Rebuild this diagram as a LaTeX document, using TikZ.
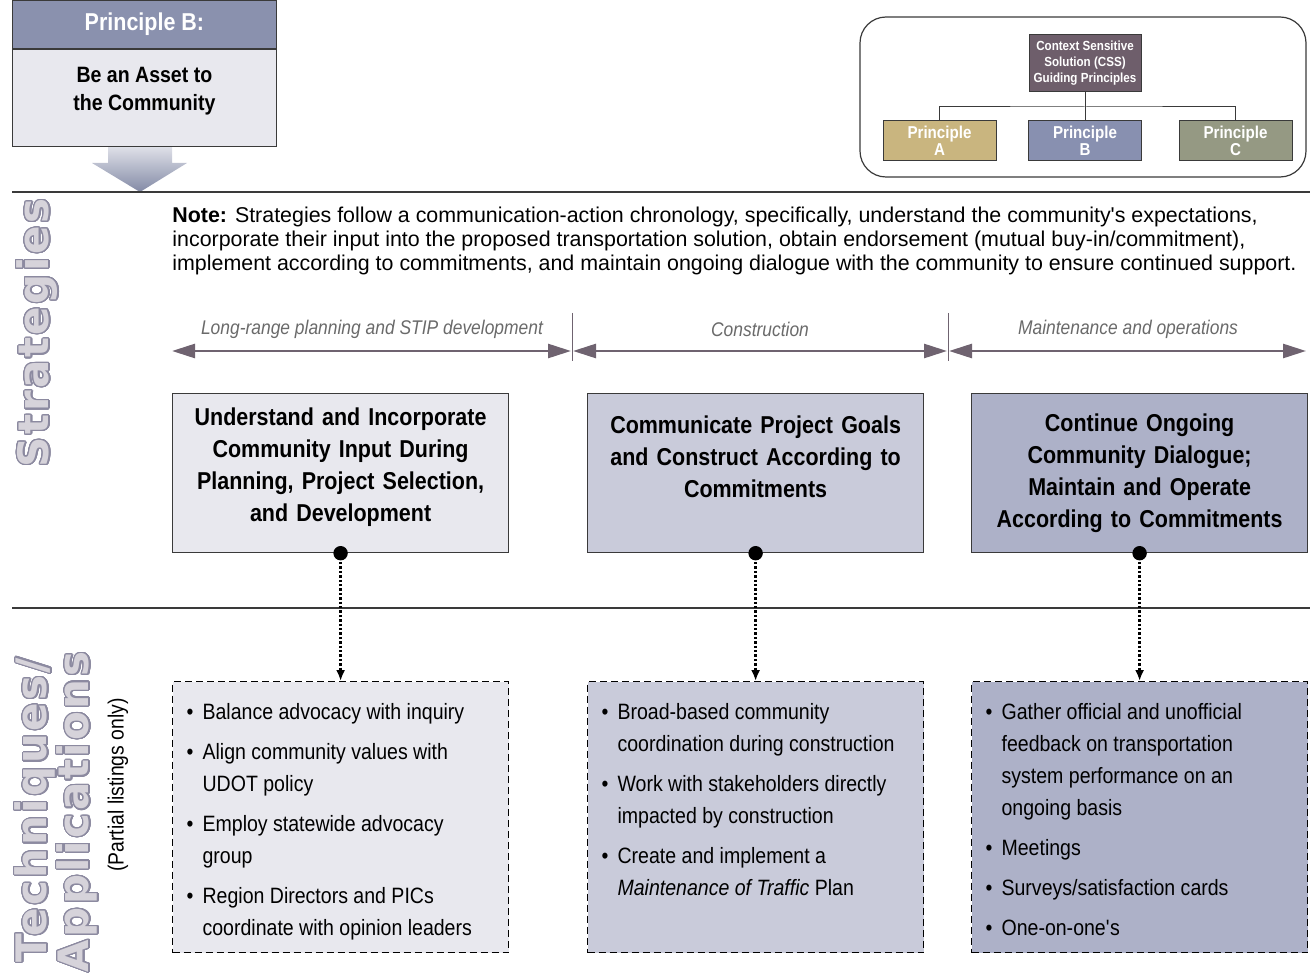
\documentclass[tikz,border=0pt]{standalone}
\usepackage{fontspec}
\setmainfont{Liberation Sans}[FakeStretch=0.88]
\newfontfamily\noteface{Liberation Sans}
\newfontfamily\sidefont{DejaVu Sans}[LetterSpace=6]
\usepackage{contour}
\contourlength{0.6pt}
\contournumber{32}
\usepackage{xcolor}
\definecolor{framegray}{HTML}{3A3A3A}
\definecolor{headblue}{HTML}{8A91AE}
\definecolor{paleblue}{HTML}{E8E8EE}
\definecolor{midblue}{HTML}{C9CBDA}
\definecolor{deepblue}{HTML}{ADB1C8}
\definecolor{plum}{HTML}{6F6370}
\definecolor{cssplum}{HTML}{6E5E6B}
\definecolor{sandA}{HTML}{C9B57F}
\definecolor{slateB}{HTML}{8890B0}
\definecolor{sageC}{HTML}{959983}
\definecolor{sidefill}{HTML}{D6D3DA}
\definecolor{sideline}{HTML}{8C8AA0}
\definecolor{phasegray}{HTML}{6A6A6A}
\usetikzlibrary{positioning, arrows.meta}

\hyphenpenalty=10000
\newcommand{\bul}[1]{\par\hangindent=8pt\hangafter=1\noindent\makebox[8pt][l]{\textbullet}#1\par\vspace{4pt}}
\newcommand{\techlist}[1]{\begin{minipage}[t][135.5pt][t]{154pt}\raggedright\vspace*{11pt}#1\end{minipage}}

\begin{document}
\begin{tikzpicture}[x=0.5pt,y=-0.5pt,
  font=\fontsize{11.1}{16}\selectfont,
  stratbox/.style={draw=framegray, line width=0.6pt, minimum width=168pt, minimum height=79.5pt,
    text width=160pt, align=center, inner sep=0pt, font=\bfseries\fontsize{12.2}{16}\selectfont},
  techbox/.style={draw=black, line width=0.6pt, dash pattern=on 3.5pt off 2pt,
    inner xsep=7pt, inner ysep=0pt, anchor=north west},
  phase/.style={text=phasegray, font=\itshape\fontsize{9.9}{12}\selectfont},
  timeline/.style={draw=plum, line width=1.3pt, {Triangle[length=11.5pt,width=7pt]}-{Triangle[length=11.5pt,width=7pt]}},
  tick/.style={draw=plum, line width=0.5pt},
  dotline/.style={line width=1.2pt, densely dotted, -{Latex[length=5.5pt,width=4.5pt]}},
  rule/.style={draw=framegray, line width=0.6pt},
  orgbox/.style={draw=framegray, line width=0.5pt, minimum width=56.5pt, minimum height=20pt,
    text=white, align=center, inner sep=0pt, font=\bfseries\fontsize{8.6}{8.6}\selectfont},
  sidelabel/.style={rotate=90, text=sidefill, font=\sidefont\bfseries\fontsize{21}{21}\selectfont}
  ]
  \useasboundingbox (0,0) rectangle (1310,978);

  % principle B header
  \shade[top color=headblue!25, bottom color=headblue!95!black]
    (108,145) -- (172,145) -- (172,163) -- (187,163) -- (140,192) -- (92,163) -- (108,163) -- cycle;
  \node[draw=framegray, fill=headblue, anchor=north west, minimum width=132pt, minimum height=24pt,
    text=white, font=\bfseries\fontsize{12.2}{14}\selectfont] (pbhead) at (12,0) {Principle B:};
  \node[draw=framegray, fill=paleblue, anchor=north, minimum width=132pt, minimum height=48.5pt,
    align=center, font=\bfseries\fontsize{11.1}{14}\selectfont] (pbbody) at (pbhead.south)
    {Be an Asset to\\the Community\\[-5.5pt]\mbox{}};

  % CSS overview
  \draw[framegray, line width=0.6pt, rounded corners=13pt] (860,17) rectangle (1306,177);
  \node[orgbox, fill=cssplum, minimum width=56pt, minimum height=28.5pt,
    font=\bfseries\fontsize{6.6}{8}\selectfont] (css) at (1085,63.5)
    {Context Sensitive\\Solution (CSS)\\Guiding Principles};
  \node[orgbox, fill=sandA] (prA) at (939.5,140.5) {Principle\\A};
  \node[orgbox, fill=slateB] (prB) at (1085,140.5) {Principle\\B};
  \node[orgbox, fill=sageC] (prC) at (1235.5,140.5) {Principle\\C};
  \draw[framegray, line width=0.5pt] (css.south) -- (prB.north);
  \draw[framegray, line width=0.5pt] (prA.north) |- (1085,107) -| (prC.north);

  % section rules
  \draw[rule] (12,192) -- (1310,192);
  \draw[rule] (12,608) -- (1310,608);

  % side labels
  \node[sidelabel] (strat) at (38,333) {\contour{sideline}{Strategies}};
  \node[sidelabel] (techn) at (36,810) {\contour{sideline}{Techniques/}};
  \node[sidelabel] (appl) at (78,812) {\contour{sideline}{Applications}};
  \node[rotate=90, font=\fontsize{11}{12}\selectfont] (partial) at (118,785) {(Partial listings only)};

  % note
  \node[anchor=north west, align=left, inner sep=0pt, font=\noteface\fontsize{10.7}{12}\selectfont] (note) at (172,207)
    {\textbf{Note:} Strategies follow a communication-action chronology, specifically, understand the community\textquotesingle s expectations,\\
     incorporate their input into the proposed transportation solution, obtain endorsement (mutual buy-in/commitment),\\
     implement according to commitments, and maintain ongoing dialogue with the community to ensure continued support.};

  % phases
  \coordinate (tA) at (172,351);
  \coordinate (tB) at (571,351);
  \coordinate (tC) at (573,351);
  \coordinate (tD) at (947,351);
  \coordinate (tE) at (949,351);
  \coordinate (tF) at (1306,351);
  \draw[timeline] (tA) -- (tB);
  \draw[timeline] (tC) -- (tD);
  \draw[timeline] (tE) -- (tF);
  \draw[tick] (572,313) -- (572,361);
  \draw[tick] (948,313) -- (948,361);
  \node[phase] (ph1) at (372,329) {Long-range planning and STIP development};
  \node[phase] (ph2) at (760,329) {Construction};
  \node[phase] (ph3) at (1128,329) {Maintenance and operations};

  % strategies
  \node[stratbox, fill=paleblue, anchor=north west] (st1) at (172,393)
    {Understand and Incorporate\\Community Input During\\Planning, Project Selection,\\and Development\\[-8pt]\mbox{}};
  \node[stratbox, fill=midblue, anchor=north west] (st2) at (587,393)
    {Communicate Project Goals\\and Construct According to\\Commitments\\[0.5pt]\mbox{}};
  \node[stratbox, fill=deepblue, anchor=north west] (st3) at (971,393)
    {Continue Ongoing\\Community Dialogue;\\Maintain and Operate\\According to Commitments};

  % techniques
  \node[techbox, fill=paleblue] (tq1) at (172,681) {\techlist{%
    \bul{Balance advocacy with inquiry}
    \bul{Align community values with\newline UDOT policy}
    \bul{Employ statewide advocacy\newline group}
    \bul{Region Directors and PICs\newline coordinate with opinion leaders}}};
  \node[techbox, fill=midblue] (tq2) at (587,681) {\techlist{%
    \bul{Broad-based community\newline coordination during construction}
    \bul{Work with stakeholders directly\newline impacted by construction}
    \bul{Create and implement a\newline \textit{Maintenance of Traffic} Plan}}};
  \node[techbox, fill=deepblue] (tq3) at (971,681) {\techlist{%
    \bul{Gather official and unofficial\newline feedback on transportation\newline system performance on an\newline ongoing basis}
    \bul{Meetings}
    \bul{Surveys/satisfaction cards}
    \bul{One-on-one\textquotesingle s}}};

  % links
  \foreach \s/\t in {st1/tq1, st2/tq2, st3/tq3} {
    \draw[dotline] (\s.south) -- (\t.north);
    \fill (\s.south) circle (3.6pt);
  }
\end{tikzpicture}
\end{document}
